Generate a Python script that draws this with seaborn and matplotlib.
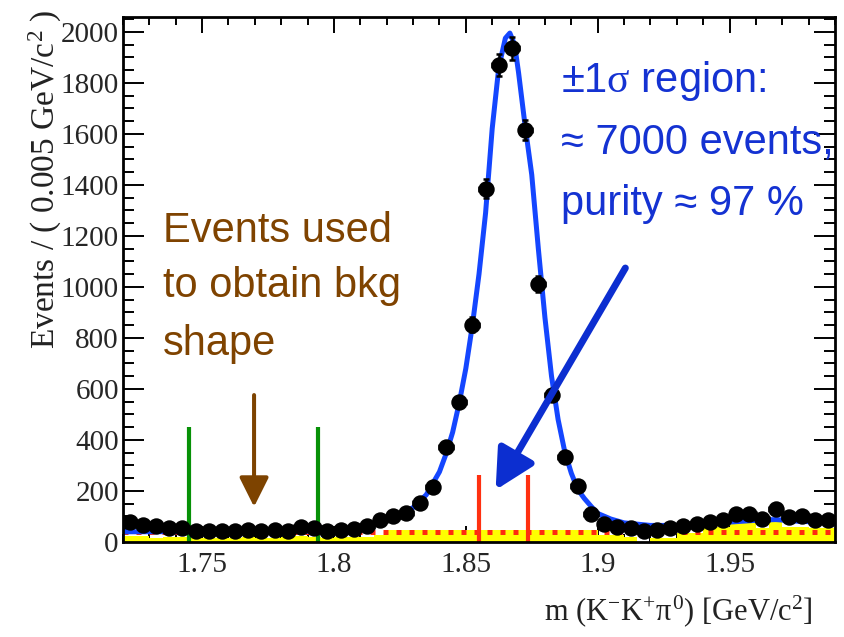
import numpy as np
import pandas as pd
import matplotlib
matplotlib.use("Agg")
import matplotlib.pyplot as plt
import seaborn as sns
from matplotlib.ticker import MultipleLocator, FixedLocator, FixedFormatter

# ---------------- data ----------------
bin_centers = [1.7225, 1.7275, 1.7325, 1.7375, 1.7425, 1.7475, 1.7525, 1.7575, 1.7625, 1.7675,
               1.7725, 1.7775, 1.7825, 1.7875, 1.7925, 1.7975, 1.8025, 1.8075, 1.8125, 1.8175,
               1.8225, 1.8275, 1.8325, 1.8375, 1.8425, 1.8475, 1.8525, 1.8575, 1.8625, 1.8675,
               1.8725, 1.8775, 1.8825, 1.8875, 1.8925, 1.8975, 1.9025, 1.9075, 1.9125, 1.9175,
               1.9225, 1.9275, 1.9325, 1.9375, 1.9425, 1.9475, 1.9525, 1.9575, 1.9625, 1.9675,
               1.9725, 1.9775, 1.9825, 1.9875]
events = [80, 65, 62, 55, 55, 45, 42, 44, 42, 46,
          44, 47, 42, 58, 55, 45, 48, 52, 62, 85,
          100, 114, 152, 217, 374, 550, 851, 1385, 1870, 1935,
          1615, 1011, 576, 334, 220, 110, 70, 60, 55, 45,
          48, 55, 62, 70, 80, 88, 110, 108, 90, 130,
          98, 100, 88, 85]
bkg_mc = [25, 25, 15, 20, 20, 15, 15, 15, 15, 18,
          15, 15, 20, 22, 20, 15, 18, 18, 20, 27,
          48, 48, 47, 48, 49, 48, 48, 49, 48, 48,
          49, 48, 48, 47, 48, 48, 27, 27, 20, 0,
          15, 15, 35, 35, 59, 59, 86, 90, 55, 94,
          59, 59, 55, 55]
fit_x = [1.720, 1.790, 1.800, 1.810, 1.815, 1.820, 1.825, 1.830, 1.835, 1.840,
         1.8425, 1.845, 1.8475, 1.850, 1.8525, 1.855, 1.8575, 1.860, 1.8625, 1.865,
         1.8667, 1.8685, 1.870, 1.8725, 1.875, 1.8775, 1.880, 1.8825, 1.885, 1.8875,
         1.890, 1.8925, 1.895, 1.8975, 1.900, 1.905, 1.910, 1.920, 1.930, 1.940,
         1.950, 1.960, 1.9675, 1.975, 1.990]
fit_y = [40, 42, 48, 60, 72, 88, 105, 135, 185, 275,
         345, 430, 545, 680, 850, 1050, 1290, 1620, 1860, 1975,
         1995, 1950, 1840, 1630, 1440, 1150, 880, 650, 480, 355,
         270, 205, 170, 140, 112, 90, 75, 65, 65, 70,
         78, 85, 88, 82, 75]
flat_bkg_x = [1.72, 1.99]
flat_bkg_y = [40, 40]
sideband_lines = [1.745, 1.794]
sideband_height = 450
sigma_lines = [1.8551, 1.8734]
sigma_height = 262
bin_edges = [1.72 + 0.005 * i for i in range(55)]
y_ticks = [0, 200, 400, 600, 800, 1000, 1200, 1400, 1600, 1800, 2000]
x_ticks = [1.75, 1.8, 1.85, 1.9, 1.95]
x_tick_labels = ["1.75", "1.8", "1.85", "1.9", "1.95"]

# ---------------- style ----------------
sns.set_theme(style="ticks")
plt.rcParams["font.family"] = ["Liberation Serif", "DejaVu Serif"]
plt.rcParams["mathtext.fontset"] = "custom"
plt.rcParams["mathtext.rm"] = "Liberation Serif"
plt.rcParams["mathtext.it"] = "Liberation Serif"
plt.rcParams["mathtext.bf"] = "Liberation Serif:bold"

W, H = 845, 637
fig = plt.figure(figsize=(W / 100, H / 100), dpi=100)
fig.patch.set_facecolor("white")
ax = fig.add_axes([123 / W, 1 - 542 / H, (835 - 123) / W, (542 - 17) / H])
ax.set_facecolor("white")

df = pd.DataFrame({"m": bin_centers, "n": events, "bkg": bkg_mc})

# yellow background histogram
sns.histplot(data=df, x="m", weights="bkg", bins=bin_edges, element="bars",
             fill=True, color="#ffff00", alpha=1.0, linewidth=0, ax=ax, zorder=1)

# flat background (red dotted)
sns.lineplot(x=flat_bkg_x, y=flat_bkg_y, color="#ff2a10", lw=3.6,
             linestyle=(0, (1.0, 1.6)), dash_capstyle="butt", ax=ax, zorder=2)

# total fit (blue)
sns.lineplot(x=fit_x, y=fit_y, color="#1446ff", lw=3.6, ax=ax, zorder=3)

# sideband (green) and +-1 sigma (red) markers
ax.vlines(sideband_lines, 0, sideband_height, color="#079107", lw=3, zorder=2.5)
ax.vlines(sigma_lines, 0, sigma_height, color="#ff3010", lw=3, zorder=3.5)

# data points
ax.errorbar(bin_centers, events, yerr=np.sqrt(events), xerr=0.0025, fmt="none",
            ecolor="black", elinewidth=1.8, capsize=2.5, capthick=1.8, zorder=4)
sns.scatterplot(data=df, x="m", y="n", s=140, color="black", edgecolor="black",
                linewidth=0, ax=ax, zorder=5)

# arrows
ax.annotate("", xy=(1.7697, 138), xytext=(1.7697, 576),
            arrowprops=dict(arrowstyle="-|>,head_length=18,head_width=9",
                            mutation_scale=1, color="#7d4300", lw=2.9,
                            shrinkA=0, shrinkB=0), zorder=6)
ax.annotate("", xy=(1.8613, 204), xytext=(1.9105, 1074),
            arrowprops=dict(arrowstyle="-|>,head_length=24,head_width=12.4",
                            mutation_scale=1, color="#0c2ed0", lw=5,
                            shrinkA=0, shrinkB=0), zorder=6)

# axes
ax.set_xlim(1.72, 1.99)
ax.set_ylim(0, 2058)
ax.xaxis.set_major_locator(FixedLocator(x_ticks))
ax.xaxis.set_major_formatter(FixedFormatter(x_tick_labels))
ax.xaxis.set_minor_locator(MultipleLocator(0.01))
ax.yaxis.set_major_locator(FixedLocator(y_ticks))
ax.yaxis.set_minor_locator(MultipleLocator(50))
ax.set_xlabel("")
ax.set_ylabel("")
ax.tick_params(axis="both", which="both", direction="in", top=True, right=True,
               color="black")
ax.tick_params(axis="y", which="major", length=15, width=1.4, labelsize=21, pad=3)
ax.tick_params(axis="y", which="minor", length=8, width=1.4)
ax.tick_params(axis="x", which="major", length=11.5, width=1.4, labelsize=21, pad=7)
ax.tick_params(axis="x", which="minor", length=5.8, width=1.4)
for sp in ax.spines.values():
    sp.set_visible(True)
    sp.set_linewidth(2)
    sp.set_color("black")
    sp.set_zorder(10)

# axis titles
fig.text(45 / W, 1 - 9 / H, r"Events / ( 0.005 GeV/c$^{2}$ )", rotation=90,
         ha="center", va="top", fontsize=24, color="#222222")
fig.text(813 / W, 1 - 620 / H, r"m (K$^{-}$K$^{+}$$\pi^{0}$) [GeV/c$^{2}$]",
         ha="right", va="baseline", fontsize=22, color="#222222")

# annotations
sans = ["Liberation Sans", "DejaVu Sans"]
brown = "#7f4300"
for txt, base in [("Events used", 241.7), ("to obtain bkg", 296.7), ("shape", 355)]:
    fig.text(163 / W, 1 - base / H, txt, ha="left", va="baseline", fontsize=30,
             color=brown, family=sans)
blue = "#1432d2"
for txt, base in [(r"±1$\sigma$ region:", 91.7), ("≈ 7000 events,", 153.3),
                  ("purity ≈ 97 %", 215)]:
    fig.text(561 / W, 1 - base / H, txt, ha="left", va="baseline", fontsize=30,
             color=blue, family=sans)

fig.savefig("out.png", dpi=100, facecolor="white")
